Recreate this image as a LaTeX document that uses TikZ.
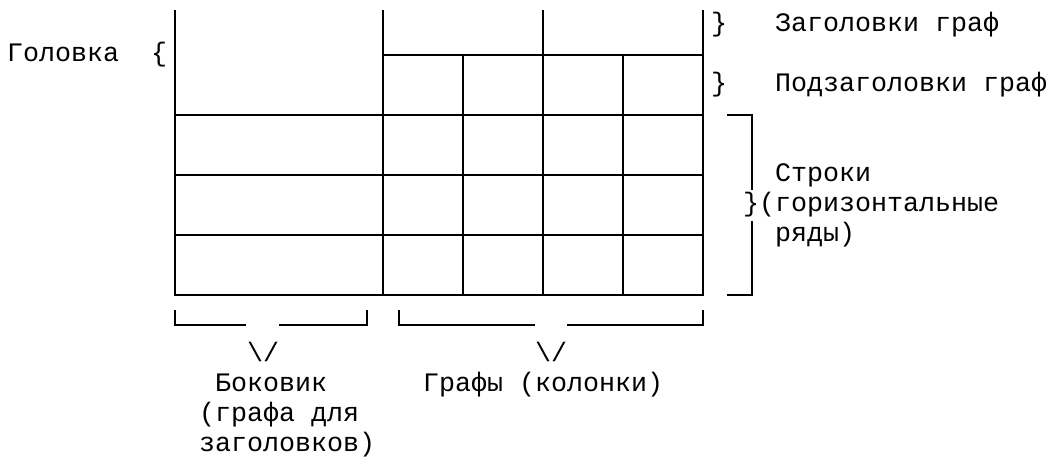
\documentclass[tikz,border=0pt]{standalone}
\usepackage{fontspec}
\newfontfamily\courfont{Liberation Mono}
\begin{document}
\begin{tikzpicture}[x=1pt,y=-1pt,
  rule/.style={line width=2.6pt, line cap=rect},
  lbl/.style={anchor=base west, inner sep=0pt, outer sep=0pt,
    font=\courfont\fontsize{26.67pt}{30pt}\selectfont, text=black}]
\useasboundingbox (0,0) rectangle (1048,456);
% --- grid coordinates
\foreach \n/\x in {a/175,b/383,c/463,d/543,e/623,f/703}{
  \coordinate (\n-top) at (\x,10);
  \coordinate (\n-sub) at (\x,55);
  \coordinate (\n-bot) at (\x,295);
}
% verticals
\draw[rule,line cap=butt] (a-top) -- (a-bot);
\draw[rule,line cap=butt] (b-top) -- (b-bot);
\draw[rule,line cap=butt] (d-top) -- (d-bot);
\draw[rule,line cap=butt] (f-top) -- (f-bot);
\draw[rule,line cap=butt] (c-sub) -- (c-bot);
\draw[rule,line cap=butt] (e-sub) -- (e-bot);
% horizontals
\draw[rule] (b-sub) -- (f-sub);
\foreach \y in {115,175,235,295}{
  \draw[rule] (175,\y) -- (703,\y);
}
% right bracket of the rows
\coordinate (rbtl) at (727,115);
\coordinate (rbtr) at (752,115);
\coordinate (rbgap1) at (752,190);
\coordinate (rbgap2) at (752,221);
\coordinate (rbbr) at (752,295);
\coordinate (rbbl) at (727,295);
\draw[rule,line cap=butt] (rbtl) -- (rbtr) -- (rbgap1);
\draw[rule,line cap=butt] (rbgap2) -- (rbbr) -- (rbbl);
% bottom brackets
\coordinate (l1) at (175,310); \coordinate (l2) at (175,325); \coordinate (l3) at (246,325);
\coordinate (l4) at (279,325); \coordinate (l5) at (367,325); \coordinate (l6) at (367,310);
\draw[rule,line cap=butt,line join=miter] (l1) -- (l2) -- (l3);
\draw[rule,line cap=butt,line join=miter] (l4) -- (l5) -- (l6);
\coordinate (r1) at (399,310); \coordinate (r2) at (399,325); \coordinate (r3) at (535,325);
\coordinate (r4) at (567,325); \coordinate (r5) at (703,325); \coordinate (r6) at (703,310);
\draw[rule,line cap=butt,line join=miter] (r1) -- (r2) -- (r3);
\draw[rule,line cap=butt,line join=miter] (r4) -- (r5) -- (r6);
% --- texts
\node[lbl] (golovka) at (7,61.5) {Головка};
\node[lbl] (lbrace) at (151,61.5) {\{};
\node[lbl] (brace1) at (711,31.5) {\}};
\node[lbl] (zag) at (775,31.5) {Заголовки граф};
\node[lbl] (brace2) at (711,91.5) {\}};
\node[lbl] (podzag) at (775,91.5) {Подзаголовки граф};
\node[lbl] (stroki) at (775,181.5) {Строки};
\node[lbl] (brace3) at (743,211.5) {\}};
\node[lbl] (gor) at (759,211.5) {(горизонтальные};
\node[lbl] (ryady) at (775,241.5) {ряды)};
\node[lbl] (arrL) at (247,361.5) {\textbackslash/};
\node[lbl] (arrR) at (535,361.5) {\textbackslash/};
\node[lbl] (bokovik) at (215,391.5) {Боковик};
\node[lbl] (grafy) at (423,391.5) {Графы (колонки)};
\node[lbl] (grafa) at (199,421.5) {(графа для};
\node[lbl] (zagolovkov) at (199,451.5) {заголовков)};
\end{tikzpicture}
\end{document}
